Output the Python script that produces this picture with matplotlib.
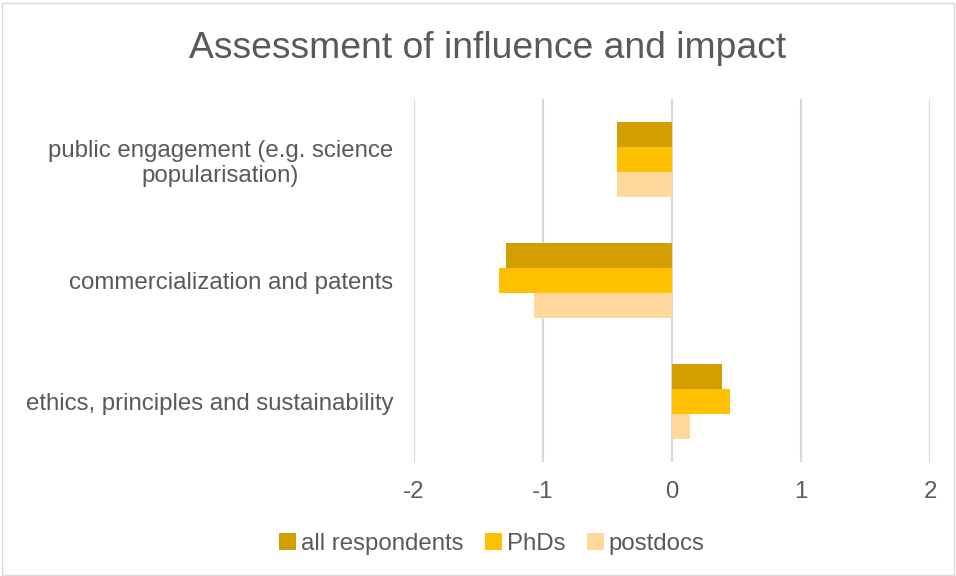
import matplotlib.pyplot as plt
import numpy as np

# datos
categorias = ['public engagement (e.g. science\npopularisation)',
              'commercialization and patents',
              'ethics, principles and sustainability']
series = ['all respondents', 'PhDs', 'postdocs']
todos = [-0.43, -1.29, 0.39]
phds = [-0.43, -1.34, 0.45]
postdocs = [-0.43, -1.07, 0.14]
colores = ['#D39E00', '#FFC000', '#FFD89E']

plt.rcParams['font.family'] = ['Liberation Sans', 'DejaVu Sans']
plt.rcParams['axes.unicode_minus'] = False
gris = '#595959'

fig = plt.figure(figsize=(9.56, 5.76), dpi=100)
ax = fig.add_axes([414/956, 1 - 462/576, 516/956, 363/576])

y = np.arange(len(categorias))
h = 0.207
for i, (vals, nombre) in enumerate(zip([todos, phds, postdocs], series)):
    ax.barh(y + (i - 1) * h, vals, height=h, color=colores[i], label=nombre, zorder=3)

ax.set_xlim(-2, 2)
ax.set_ylim(2.5, -0.5)
ax.set_xticks([-2, -1, 0, 1, 2])
ax.set_yticks(y)
ax.set_yticklabels(categorias, multialignment='center')
ax.grid(axis='x', color='#D9D9D9', linewidth=1.5, zorder=0)
ax.tick_params(length=0, labelsize=17.3, colors=gris)
ax.tick_params(axis='y', pad=15)
ax.tick_params(axis='x', pad=14)
for s in ax.spines.values():
    s.set_visible(False)

fig.suptitle('Assessment of influence and impact', x=0.51, y=1 - 49/576, va='center',
             fontsize=26.8, color=gris)
ax.legend(loc='center', bbox_to_anchor=(0.151, -0.225), ncol=3, frameon=False,
          fontsize=17.3, labelcolor=gris, handlelength=0.7, handleheight=0.7,
          handletextpad=0.2, columnspacing=0.9)

fig.patches.append(plt.Rectangle((0.002, 0.002), 0.996, 0.992, transform=fig.transFigure,
                                 fill=False, edgecolor='#D9D9D9', linewidth=1))
fig.savefig('out.png')
